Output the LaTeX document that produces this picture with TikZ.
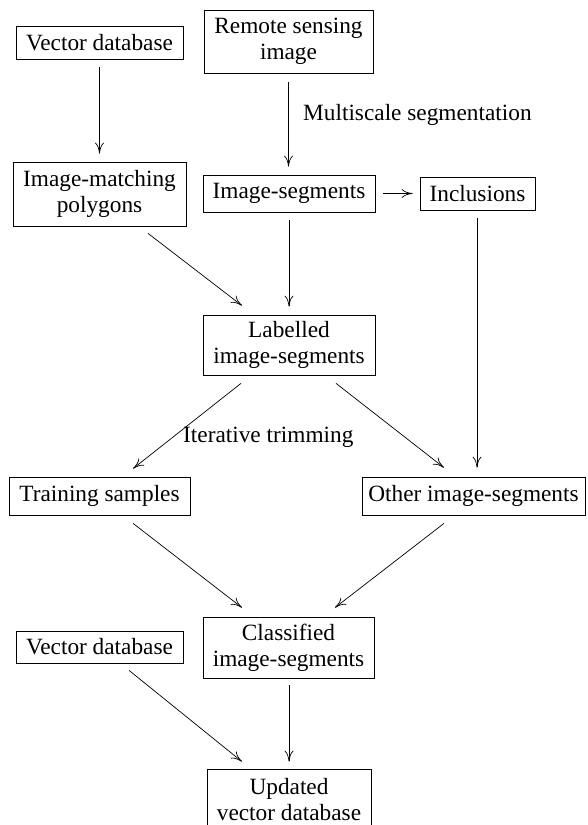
\documentclass[tikz,border=0pt]{standalone}
\usepackage{fontspec}
\setmainfont{Liberation Serif}
\usetikzlibrary{arrows.meta}
\begin{document}
\begin{tikzpicture}[x=1pt,y=-1pt,
  box/.style={draw, line width=0.7pt, inner sep=0pt, align=center,
    font=\fontsize{23.3}{26}\selectfont},
  conn/.style={line width=0.7pt, -{To[length=11pt,width=9pt,line width=0.7pt]}},
  lbl/.style={inner sep=0pt, anchor=west, font=\fontsize{23.3}{26}\selectfont}]
\useasboundingbox (0,0) rectangle (587,825);
\clip (0,0) rectangle (587,825);

\node[box, minimum width=167pt, minimum height=33pt] (vdb1) at (99.5,42.5) {Vector database};
\node[box, minimum width=169pt, minimum height=63pt] (rsi) at (288.5,41.5) {Remote sensing\\image};
\node[box, minimum width=173pt, minimum height=64pt] (imp) at (99.5,194) {Image-matching\\polygons};
\node[box, minimum width=172pt, minimum height=37pt] (seg) at (289,193.5) {Image-segments};
\node[box, minimum width=115pt, minimum height=33pt] (inc) at (477.5,193.5) {Inclusions};
\node[box, minimum width=172pt, minimum height=60pt] (lab) at (289,345) {Labelled\\image-segments};
\node[box, minimum width=181pt, minimum height=38pt] (trn) at (99.5,496) {Training samples};
\node[box, minimum width=223pt, minimum height=38pt] (oth) at (473.5,496) {Other image-segments};
\node[box, minimum width=171pt, minimum height=61pt] (cls) at (288.5,647.5) {Classified\\image-segments};
\node[box, minimum width=167pt, minimum height=32pt] (vdb2) at (99.5,647) {Vector database};
\node[box, minimum width=164pt, minimum height=62pt] (upd) at (289,800) {Updated\\vector database};

\node[lbl] (ms) at (303,115) {Multiscale segmentation};
\node[lbl] (it) at (183,437) {Iterative trimming};

\draw[conn] ([yshift=-8pt]vdb1.south) -- ([yshift=8pt]imp.north);
\draw[conn] ([yshift=-9pt]rsi.south) -- ([xshift=-0.5pt,yshift=8pt]seg.north);
\draw[conn] ([xshift=8pt]seg.east) -- ([xshift=-7pt]inc.west);
\draw[conn] ([xshift=48.5pt,yshift=-7pt]imp.south) -- ([xshift=-47pt,yshift=9pt]lab.north);
\draw[conn] ([yshift=-8pt]seg.south) -- ([yshift=8pt]lab.north);
\draw[conn] ([xshift=-0.5pt,yshift=-8pt]inc.south) -- ([xshift=3.5pt,yshift=9pt]oth.north);
\draw[conn] ([xshift=-48pt,yshift=-8pt]lab.south) -- ([xshift=33.5pt,yshift=8pt]trn.north);
\draw[conn] ([xshift=47pt,yshift=-8pt]lab.south) -- ([xshift=-29.5pt,yshift=9pt]oth.north);
\draw[conn] ([xshift=33.5pt,yshift=-8pt]trn.south) -- ([xshift=-46.5pt,yshift=9pt]cls.north);
\draw[conn] ([xshift=-29.5pt,yshift=-8pt]oth.south) -- ([xshift=46.5pt,yshift=9pt]cls.north);
\draw[conn] ([xshift=29.5pt,yshift=-7pt]vdb2.south) -- ([xshift=-47pt,yshift=7pt]upd.north);
\draw[conn] ([xshift=0.5pt,yshift=-7pt]cls.south) -- ([yshift=7pt]upd.north);
\end{tikzpicture}
\end{document}
